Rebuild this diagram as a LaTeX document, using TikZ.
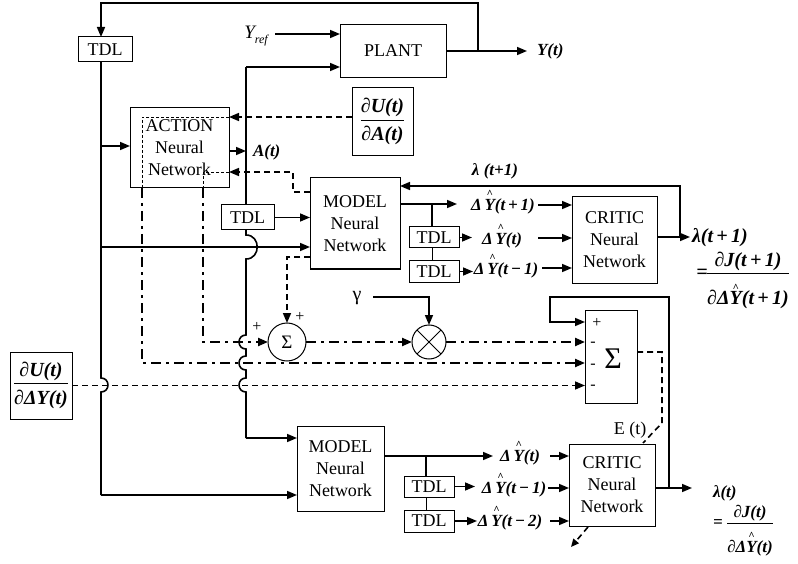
\documentclass[tikz,border=0pt]{standalone}
\usepackage{fontspec}
\setmainfont{Liberation Serif}
\usetikzlibrary{arrows.meta}
\setlength{\arrayrulewidth}{1pt}
\newcommand{\hY}{\ooalign{Y\cr\hidewidth\raisebox{13pt}{\fontsize{11}{11}\selectfont\textasciicircum}\hidewidth\cr}}
\newcommand{\myfr}[3]{\begin{tabular}[t]{@{}c@{}}#1\\\hline\rule{0pt}{#3}#2\end{tabular}}
\begin{document}
\begin{tikzpicture}[x=1pt,y=-1pt,
  every node/.style={inner sep=0pt, outer sep=0pt, font=\fontsize{18}{22}\selectfont},
  blk/.style={draw, line width=1pt, align=center},
  conn/.style={line width=1.6pt},
  thinl/.style={line width=0.9pt},
  arr/.style={-{Triangle[length=10pt,width=8pt]}},
  sarr/.style={-{Triangle[length=8pt,width=7pt]}},
  dsh/.style={line width=1.6pt, dash pattern=on 6pt off 4pt},
  idsh/.style={line width=0.8pt, dash pattern=on 3pt off 2pt},
  ddot/.style={line width=2.2pt, dash pattern=on 10pt off 5pt on 3pt off 5pt},
  lab/.style={font=\fontsize{17}{20}\selectfont\bfseries\itshape},
  biglab/.style={font=\fontsize{20}{24}\selectfont\bfseries\itshape},
  sgn/.style={font=\fontsize{16}{16}\selectfont},
]
\useasboundingbox (0,0) rectangle (798,564);

% ---------- blocks ----------
\node[blk,minimum width=54pt,minimum height=25pt] (tdlA) at (105,49.5) {TDL};
\node[blk,minimum width=106pt,minimum height=53pt] (plant) at (393,51) {PLANT};
\node[blk,minimum width=99pt,minimum height=80pt] (action) at (179.5,148) {ACTION\\Neural\\Network};
\node[blk,minimum width=61pt,minimum height=68pt,biglab] (dUdA) at (382.5,122) {\myfr{∂U(t)}{∂A(t)}{20pt}};
\node[blk,minimum width=53pt,minimum height=25pt] (tdlB) at (247.5,217.5) {TDL};
\node[blk,minimum width=90pt,minimum height=91pt] (model1) at (355,223.5) {MODEL\\Neural\\Network};
\node[blk,minimum width=50pt,minimum height=21pt] (tdlC) at (434,237.5) {TDL};
\node[blk,minimum width=50pt,minimum height=21pt] (tdlD) at (434,271.5) {TDL};
\node[blk,minimum width=85pt,minimum height=86pt] (critic1) at (614.5,240) {CRITIC\\Neural\\Network};
\node[draw,circle,line width=1pt,minimum size=38pt,font=\fontsize{19}{19}\selectfont] (sum) at (287,342) {Σ};
\node[draw,circle,line width=1pt,minimum size=34pt] (mult) at (429,342) {};
\draw[line width=1pt] (mult.north west) -- (mult.south east) (mult.north east) -- (mult.south west);
\node[blk,minimum width=52pt,minimum height=93pt] (bigsum) at (611,356.5) {};
\node[font=\fontsize{30}{30}\selectfont] (bigsig) at (613,359) {Σ};
\node[blk,minimum width=62pt,minimum height=67pt,biglab] (dUdY) at (41,385.5) {\myfr{∂U(t)}{∂ΔY(t)}{20pt}};
\node[blk,minimum width=87pt,minimum height=85pt] (model2) at (340.5,468.5) {MODEL\\Neural\\Network};
\node[blk,minimum width=50pt,minimum height=21pt] (tdlE) at (429,486.5) {TDL};
\node[blk,minimum width=50pt,minimum height=22pt] (tdlF) at (429,521) {TDL};
\node[blk,minimum width=86pt,minimum height=82pt] (critic2) at (612,485) {CRITIC\\Neural\\Network};

% ---------- labels ----------
\node[font=\fontsize{19}{19}\selectfont\itshape] (yref) at (256,36) {Y{\fontsize{12}{12}\selectfont\raisebox{-5pt}{ref}}};
\node[lab,anchor=west] (yt) at (537,51) {Y(t)};
\node[lab,anchor=west] (at) at (253,152) {A(t)};
\node[lab,anchor=base] (lamA) at (495,176) {λ (t+1)};
\node[lab,anchor=base] (dy1) at (503,211) {Δ\,\hY(t\,+\,1)};
\node[lab,anchor=base] (dy2) at (502,244) {Δ\,\hY(t)};
\node[lab,anchor=base] (dy3) at (506,274) {Δ\,\hY(t\,−\,1)};
\node[biglab,anchor=west] (lamB) at (692,238) {λ(t\,+\,1)};
\node[biglab] (eqB) at (702,274) {=};
\node[biglab,anchor=base] (frB) at (748,266) {\myfr{∂J(t\,+\,1)}{∂Δ\hY(t\,+\,1)}{30pt}};
\node[font=\fontsize{20}{20}\selectfont] (gam) at (357,298) {γ};
\node[sgn] (p1) at (300,317) {+};
\node[sgn] (p2) at (257,327) {+};
\node[sgn] (s1) at (597,323) {+};
\node[sgn] (s2) at (593,344) {-};
\node[sgn] (s3) at (593,366) {-};
\node[sgn] (s4) at (593,387) {-};
\node (et) at (630,430) {E (t)};
\node[lab,anchor=base] (dz1) at (520,461) {Δ\,\hY(t)};
\node[lab,anchor=base] (dz2) at (514,493) {Δ\,\hY(t\,−\,1)};
\node[lab,anchor=base] (dz3) at (510,526) {Δ\,\hY(t\,−\,2)};
\node[lab,anchor=west] (lamC) at (713,493) {λ(t)};
\node[lab] (eqC) at (718,524) {=};
\node[lab,anchor=base] (frC) at (750,517) {\myfr{∂J(t)}{∂Δ\hY(t)}{28pt}};

% ---------- coordinates ----------
\coordinate (jY) at (478,51);
\coordinate (cTop1) at (478,3);
\coordinate (cTop2) at (101,3);
\coordinate (xL) at (101,0);
\coordinate (cYr) at (275,34);
\coordinate (bA) at (101,146);
\coordinate (bM) at (101,247);
\coordinate (cL5) at (101,495);
\coordinate (cA) at (246,151);
\coordinate (cP) at (246,67);
\coordinate (cM2) at (246,438);
\coordinate (cAi1) at (142,117);
\coordinate (cS1) at (142,363);
\coordinate (cB1) at (293,192);
\coordinate (cB2) at (293,172);
\coordinate (cAi2) at (203,172);
\coordinate (cS2) at (203,342);
\coordinate (cC1) at (287,257);
\coordinate (cG0) at (373,297);
\coordinate (cG) at (429,297);
\coordinate (cE1) at (662,352);
\coordinate (cE2) at (662,423);
\coordinate (cE3) at (643,443);
\coordinate (cF1) at (588,527);
\coordinate (cF2) at (571,547);
\coordinate (cO2) at (669,488);
\coordinate (cO2e) at (692,488);
\coordinate (cK1) at (669,297);
\coordinate (cK2) at (550,297);
\coordinate (cK3) at (550,322);
\coordinate (cN1) at (426,456);
\coordinate (cN2) at (493,456);
\coordinate (cQ1) at (550,456);
\coordinate (cQ2) at (548,488);
\coordinate (cQ3) at (550,521);
\coordinate (cR1) at (432,204);
\coordinate (cR2) at (457,204);
\coordinate (cU1) at (538,205);
\coordinate (cU2) at (538,238);
\coordinate (cU3) at (542,268);
\coordinate (cT1) at (680,237);
\coordinate (cT2) at (690,237);
\coordinate (cT3) at (680,186);

% ---------- solid connectors ----------
\draw[conn,arr] (cYr) -- (cYr -| plant.west);
\draw[conn,arr] (plant.east) -- ([xshift=-10pt]yt.west);
\draw[conn,arr] (jY) -- (cTop1) -- (cTop2) -- (tdlA.north -| xL);
\draw[conn] (tdlA.south -| xL) -- (101,378) .. controls (110.3,378) and (110.3,392) .. (101,392) -- (cL5);
\draw[conn,arr] (cL5) -- (cL5 -| model2.west);
\draw[conn,arr] (bA) -- (bA -| action.west);
\draw[conn,arr] (bM) -- (bM -| model1.west);
\draw[conn,arr] (cA -| action.east) -- (cA);
\draw[conn] (tdlB.north -| cP) -- (cP);
\draw[conn,arr] (cP) -- (cP -| plant.west);
\draw[conn] (tdlB.south -| cP) -- (246,235) .. controls (261,235) and (261,259) .. (246,259)
  -- (246,335) .. controls (236.7,335) and (236.7,349) .. (246,349)
  -- (246,356) .. controls (236.7,356) and (236.7,370) .. (246,370)
  -- (246,378) .. controls (236.7,378) and (236.7,392) .. (246,392) -- (cM2);
\draw[conn,arr] (cM2) -- (cM2 -| model2.west);
\draw[conn,arr] (tdlB.east) -- (tdlB.east -| model1.west);
\draw[conn,arr] (cG0) -- (cG) -- (mult.north);
% upper model/critic
\draw[conn,arr] (cR1 -| model1.east) -- (cR2);
\draw[conn] (cR1) -- (cR1 |- tdlC.north);
\draw[thinl] (tdlC.south -| cR1) -- (tdlD.north -| cR1);
\draw[conn,arr] (tdlC.east) -- ++(13,0);
\draw[conn,arr] (tdlD.east) -- ++(14,0);
\draw[conn,arr] (cU1) -- (cU1 -| critic1.west);
\draw[conn,arr] (cU2) -- (cU2 -| critic1.west);
\draw[conn,arr] (cU3) -- (cU3 -| critic1.west);
\draw[conn,arr] (cT1 -| critic1.east) -- (cT2);
\draw[conn,arr] (cT1) -- (cT3) -- (cT3 -| model1.east);
% lower model/critic
\draw[conn,arr] (cN1 -| model2.east) -- (cN2);
\draw[conn] (cN1) -- (cN1 |- tdlE.north);
\draw[thinl] (tdlE.south -| cN1) -- (tdlF.north -| cN1);
\draw[conn,arr] (tdlE.east) -- ++(21,0);
\draw[conn,arr] (tdlF.east) -- ++(23,0);
\draw[conn,arr] (cQ1) -- (cQ1 -| critic2.west);
\draw[conn,arr] (cQ2) -- (cQ2 -| critic2.west);
\draw[conn,arr] (cQ3) -- (cQ3 -| critic2.west);
\draw[conn,arr] (cO2 -| critic2.east) -- (cO2e);
\draw[conn,arr] (cO2) -- (cK1) -- (cK2) -- (cK3) -- (cK3 -| bigsum.west);

% ---------- dashed connectors ----------
\draw[dsh,arr] (cAi1 -| dUdA.west) -- (cAi1 -| action.east);
\draw[idsh] (cAi1 -| action.east) -- (cAi1) -- (action.south -| cAi1);
\draw[dsh,arr] (cB1 -| model1.west) -- (cB1) -- (cB2) -- (cB2 -| action.east);
\draw[idsh] (cB2 -| action.east) -- (cAi2) -- (action.south -| cAi2);
\draw[dsh,arr] (cC1 -| model1.west) -- (cC1) -- (sum.north);
\draw[dsh,arr] (dUdY.east) -- (dUdY.east -| bigsum.west);
\draw[dsh] (cE1 -| bigsum.east) -- (cE1) -- (cE2) -- (cE3);
\draw[dsh,sarr] (cF1) -- (cF2);

% ---------- dash-dot connectors ----------
\draw[ddot,arr] (action.south -| cAi1) -- (cS1) -- (cS1 -| bigsum.west);
\draw[ddot,arr] (action.south -| cAi2) -- (cS2) -- (sum.west);
\draw[ddot,arr] (sum.east) -- (mult.west);
\draw[ddot,arr] (mult.east) -- (mult.east -| bigsum.west);
\end{tikzpicture}
\end{document}
